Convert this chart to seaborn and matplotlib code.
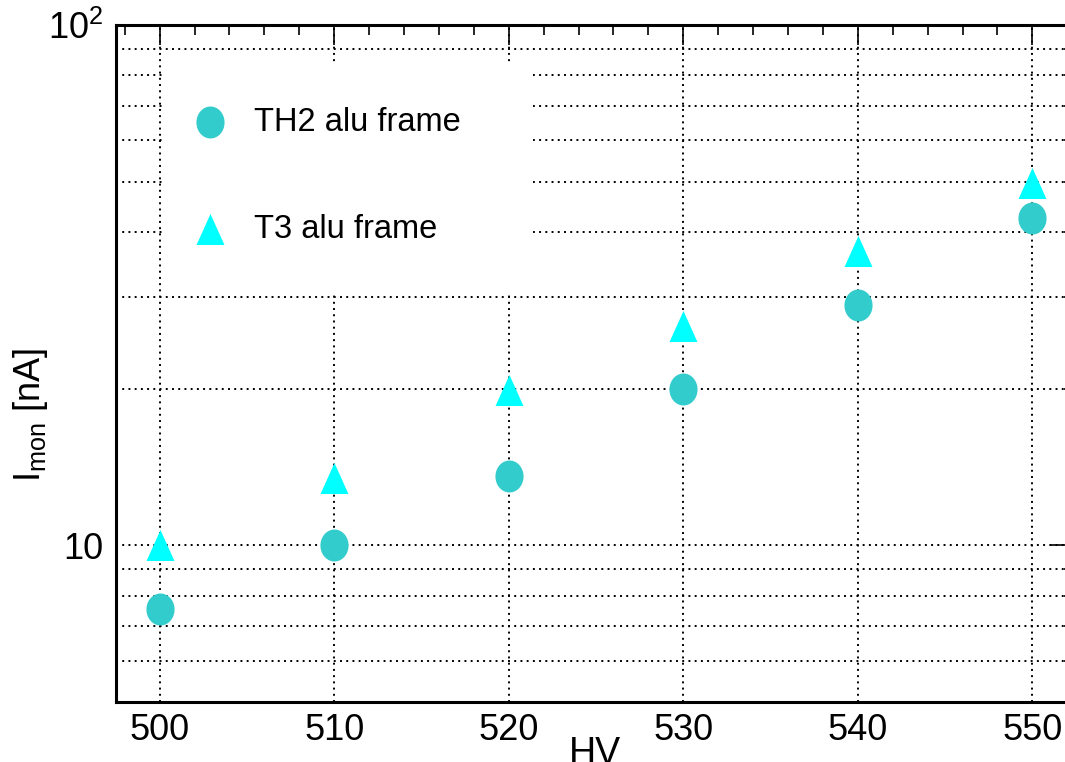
import numpy as np
import pandas as pd
import matplotlib
matplotlib.use("Agg")
import matplotlib.pyplot as plt
import seaborn as sns
from matplotlib import font_manager
from matplotlib.path import Path
from matplotlib.patches import Rectangle
from matplotlib.ticker import FixedLocator, MultipleLocator, NullFormatter

# data
hv = [500, 510, 520, 530, 540, 550]
th2_current = [7.55, 10.0, 13.6, 20.0, 29.0, 42.5]
t3_current = [10.0, 13.5, 19.9, 26.4, 36.8, 49.8]
series_names = ["TH2 alu frame", "T3 alu frame"]
series_colors = ["#33cccc", "#00ffff"]

df = pd.DataFrame({
    "HV": hv * 2,
    "I": th2_current + t3_current,
    "frame": [series_names[0]] * len(hv) + [series_names[1]] * len(hv),
})

sns.set_style("white")

names = {f.name for f in font_manager.fontManager.ttflist}
narrow = "Liberation Sans Narrow" if "Liberation Sans Narrow" in names else "Liberation Sans"
plt.rcParams["font.family"] = [narrow, "DejaVu Sans"]
plt.rcParams["text.color"] = "black"
plt.rcParams["axes.labelcolor"] = "black"

# slightly squashed markers, like in the reference
t = np.linspace(0, 2 * np.pi, 60)
ellipse = Path(np.column_stack([0.44 * np.cos(t), 0.5 * np.sin(t)]), closed=True)
triangle = Path([(-0.45, -0.5), (0.45, -0.5), (0.0, 0.5), (-0.45, -0.5)], closed=True)

fig = plt.figure(figsize=(10.65, 7.62), dpi=100)
ax = fig.add_axes([116 / 1065, 60 / 762, 960 / 1065, 677 / 762])
ax.set_axisbelow(True)

sns.scatterplot(data=df[df.frame == series_names[0]], x="HV", y="I", marker=ellipse,
                color=series_colors[0], s=530, linewidth=0, label=series_names[0],
                ax=ax, zorder=3)
sns.scatterplot(data=df[df.frame == series_names[1]], x="HV", y="I", marker=triangle,
                color=series_colors[1], s=500, linewidth=0, label=series_names[1],
                ax=ax, zorder=3)

ax.set_yscale("log")
ax.set_xlim(497.5, 552.5)
ax.set_ylim(5.0, 100)

ax.xaxis.set_major_locator(MultipleLocator(10))
ax.xaxis.set_minor_locator(MultipleLocator(2))
ax.yaxis.set_major_locator(FixedLocator([10, 100]))
ax.yaxis.set_minor_locator(FixedLocator([6, 7, 8, 9, 20, 30, 40, 50, 60, 70, 80, 90]))
ax.yaxis.set_minor_formatter(NullFormatter())
ax.set_yticklabels(["10", r"$\mathregular{10^{2}}$"])

ax.tick_params(which="both", direction="in", top=True, right=True, colors="black",
               labelcolor="black", labelsize=26, width=1.2)
ax.tick_params(axis="x", which="major", length=14.5, pad=8)
ax.tick_params(axis="x", which="minor", length=7.2)
ax.tick_params(axis="y", which="major", length=18.5, pad=9)
ax.tick_params(axis="y", which="minor", length=8.6)

ax.grid(which="major", axis="x", color="black", linestyle=(0, (1, 2.2)), linewidth=1.4)
ax.grid(which="both", axis="y", color="black", linestyle=(0, (1, 2.2)), linewidth=1.4)

for sp in ax.spines.values():
    sp.set_linewidth(2.2)
    sp.set_color("black")

ax.set_xlabel("")
ax.set_ylabel("")
fig.text(595 / 1065, (762 - 736) / 762, "HV", ha="center", va="top", fontsize=27)
fig.text(30 / 1065, (762 - 415) / 762, r"$\mathregular{I_{mon}}$ [nA]", rotation=90,
         ha="center", va="center", fontsize=26, family=["Liberation Sans", "DejaVu Sans"])

# white legend pad hiding the grid
ax.add_patch(Rectangle((0.0479, 0.6012), 0.3865, 0.3441, transform=ax.transAxes,
                       facecolor="white", edgecolor="none", zorder=1))
leg = ax.legend(loc="upper left", bbox_to_anchor=(0.0826, 0.8789), frameon=False,
                fontsize=23.5, borderpad=0, borderaxespad=0, handlelength=0.9,
                handletextpad=0.9, labelspacing=2.32)
for txt in leg.get_texts():
    txt.set_color("black")

fig.savefig("out.png", dpi=100)
